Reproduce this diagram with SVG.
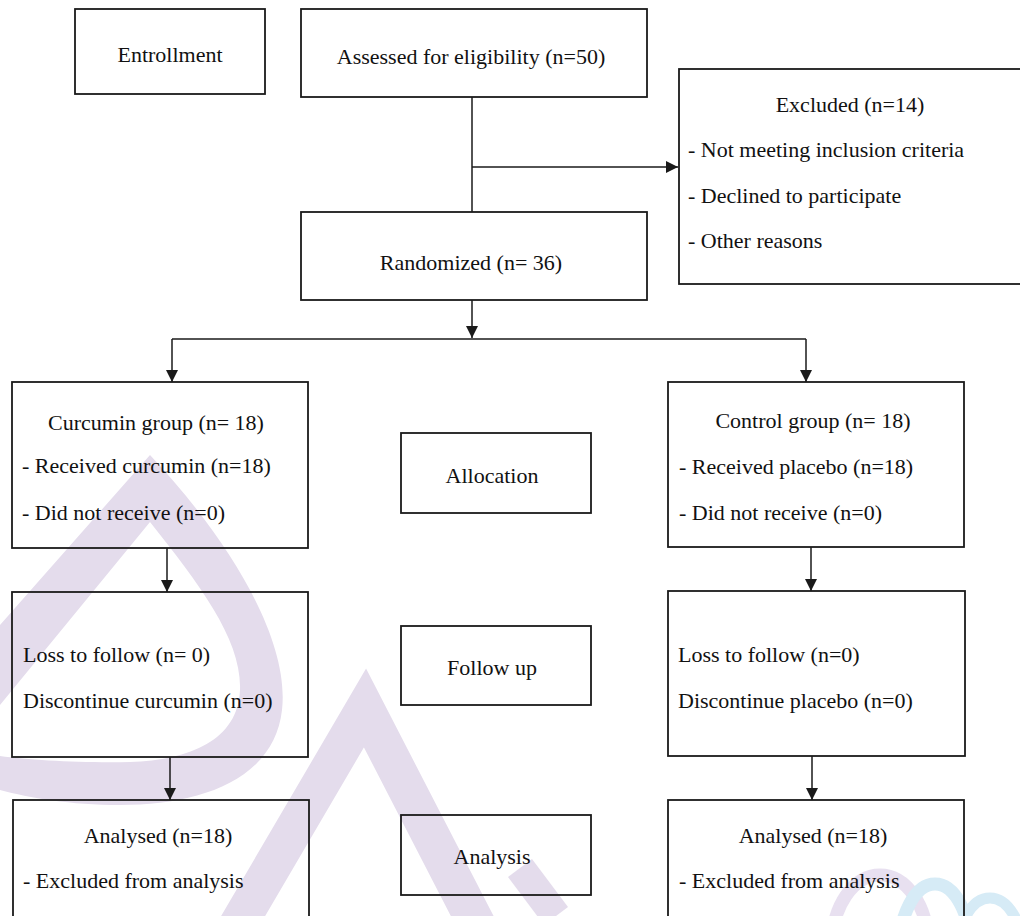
<svg xmlns="http://www.w3.org/2000/svg" width="1020" height="916" viewBox="0 0 1020 916">
<style>
.box{fill:none;stroke:#1a1a1a;stroke-width:1.8}
.t{font-family:"Liberation Serif","Times New Roman",serif;font-size:22px;fill:#111}
.c{text-anchor:middle}
.ln{fill:none;stroke:#1a1a1a;stroke-width:1.5}
.wm{fill:none;stroke:#e4dcec;stroke-linecap:butt;stroke-linejoin:miter}
</style>
<defs>
<marker id="ah" markerUnits="userSpaceOnUse" markerWidth="13" markerHeight="12" refX="12" refY="6" orient="auto">
<path d="M0,0 L12,6 L0,12 z" fill="#1a1a1a"/>
</marker>
</defs>
<rect width="1020" height="916" fill="#ffffff"/>
<g id="watermark">
<path fill="#e4dcec" fill-rule="evenodd" d="M0,625 L150,455 C230,540 290,640 282,710 C274,780 200,805 120,805 C70,805 30,798 0,790 Z M0,705 L150,522 C200,585 242,640 240,690 C238,740 190,760 130,762 C80,763 30,760 0,756 Z"/>
<path class="wm" d="M232,935 L365,708 L482,935" stroke-width="38" stroke-miterlimit="10"/>
<path class="wm" d="M520,868 L556,916" stroke-width="30"/>
<ellipse cx="880" cy="945" rx="48" ry="70" fill="none" stroke="#e8e0f0" stroke-width="13"/>
<ellipse cx="935" cy="952" rx="36" ry="68" fill="none" stroke="#d6ebf6" stroke-width="13"/>
<ellipse cx="990" cy="958" rx="34" ry="60" fill="none" stroke="#d6ebf6" stroke-width="11"/>
</g>
<g id="connectors">
<path class="ln" d="M472,97 L472,212"/>
<path class="ln" d="M472,167 L678,167" marker-end="url(#ah)"/>
<path class="ln" d="M472,300 L472,338" marker-end="url(#ah)"/>
<path class="ln" d="M172,339 L806,339"/>
<path class="ln" d="M172,339 L172,382" marker-end="url(#ah)"/>
<path class="ln" d="M806,339 L806,382" marker-end="url(#ah)"/>
<path class="ln" d="M167,548 L167,592" marker-end="url(#ah)"/>
<path class="ln" d="M170,757 L170,800" marker-end="url(#ah)"/>
<path class="ln" d="M811,547 L811,591" marker-end="url(#ah)"/>
<path class="ln" d="M812,756 L812,800" marker-end="url(#ah)"/>
</g>
<g id="enrollment">
<rect class="box" x="75" y="9" width="190" height="85"/>
<text class="t c" x="170" y="62">Entrollment</text>
</g>
<g id="assessed">
<rect class="box" x="301" y="9" width="346" height="88"/>
<text class="t c" x="471" y="64">Assessed for eligibility (n=50)</text>
</g>
<g id="excluded">
<rect class="box" x="679" y="69" width="345" height="215"/>
<text class="t c" x="850" y="112">Excluded (n=14)</text>
<text class="t" x="688" y="157">- Not meeting inclusion criteria</text>
<text class="t" x="688" y="203">- Declined to participate</text>
<text class="t" x="688" y="248">- Other reasons</text>
</g>
<g id="randomized">
<rect class="box" x="301" y="212" width="346" height="88"/>
<text class="t c" x="471" y="270">Randomized (n= 36)</text>
</g>
<g id="curcumin-group">
<rect class="box" x="12" y="382" width="296" height="166"/>
<text class="t c" x="156" y="430">Curcumin group (n= 18)</text>
<text class="t" x="22" y="473">- Received curcumin (n=18)</text>
<text class="t" x="22" y="520">- Did not receive (n=0)</text>
</g>
<g id="control-group">
<rect class="box" x="668" y="382" width="296" height="165"/>
<text class="t c" x="813" y="428">Control group (n= 18)</text>
<text class="t" x="679" y="474">- Received placebo (n=18)</text>
<text class="t" x="679" y="520">- Did not receive (n=0)</text>
</g>
<g id="allocation">
<rect class="box" x="401" y="433" width="190" height="80"/>
<text class="t c" x="492" y="483">Allocation</text>
</g>
<g id="followup-curcumin">
<rect class="box" x="12" y="592" width="296" height="165"/>
<text class="t" x="23" y="662">Loss to follow (n= 0)</text>
<text class="t" x="23" y="708">Discontinue curcumin (n=0)</text>
</g>
<g id="followup">
<rect class="box" x="401" y="626" width="190" height="79"/>
<text class="t c" x="492" y="675">Follow up</text>
</g>
<g id="followup-control">
<rect class="box" x="668" y="591" width="297" height="165"/>
<text class="t" x="678" y="662">Loss to follow (n=0)</text>
<text class="t" x="678" y="708">Discontinue placebo (n=0)</text>
</g>
<g id="analysed-curcumin">
<rect class="box" x="13" y="800" width="296" height="130"/>
<text class="t c" x="158" y="843">Analysed (n=18)</text>
<text class="t" x="23" y="888">- Excluded from analysis</text>
</g>
<g id="analysis">
<rect class="box" x="401" y="815" width="190" height="80"/>
<text class="t c" x="492" y="864">Analysis</text>
</g>
<g id="analysed-control">
<rect class="box" x="668" y="800" width="296" height="130"/>
<text class="t c" x="813" y="843">Analysed (n=18)</text>
<text class="t" x="679" y="888">- Excluded from analysis</text>
</g>
</svg>
